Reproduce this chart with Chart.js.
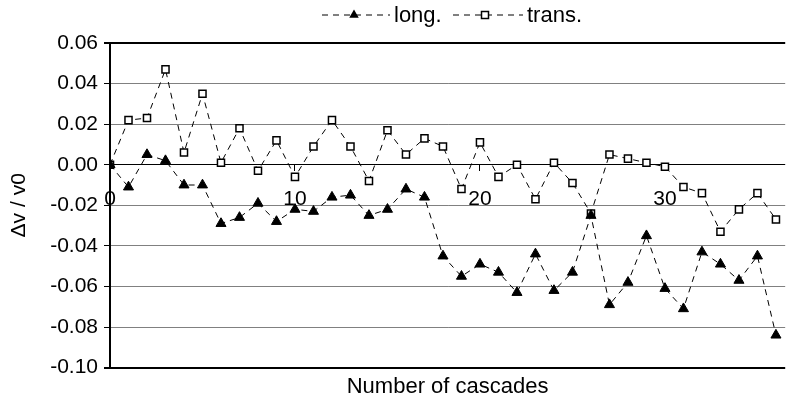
<!DOCTYPE html>
<html lang="en">
<head>
  <meta charset="UTF-8">
  <title>Velocity change per cascade</title>
  <script src="https://cdn.jsdelivr.net/npm/chart.js"></script>
  <style>
    body {
      margin: 0;
      background: #fff;
    }
    canvas {
      display: block;
    }
  </style>
</head>
<body>

  <canvas id="cascadeChart" width="792" height="404"></canvas>

  <script>
    // number of cascades (x values)
    const cascades = [0, 1, 2, 3, 4, 5, 6, 7, 8, 9, 10, 11, 12, 13, 14, 15, 16, 17, 18,
                      19, 20, 21, 22, 23, 24, 25, 26, 27, 28, 29, 30, 31, 32, 33, 34, 35, 36];

    // relative velocity change, longitudinal
    const longValues = [0.000, -0.011, 0.005, 0.002, -0.010, -0.010, -0.029, -0.026, -0.019, -0.028,
                        -0.022, -0.023, -0.016, -0.015, -0.025, -0.022, -0.012, -0.016, -0.045, -0.055,
                        -0.049, -0.053, -0.063, -0.044, -0.062, -0.053, -0.025, -0.069, -0.058, -0.035,
                        -0.061, -0.071, -0.043, -0.049, -0.057, -0.045, -0.084];

    // relative velocity change, transverse
    const transValues = [0.000, 0.022, 0.023, 0.047, 0.006, 0.035, 0.001, 0.018, -0.003, 0.012,
                         -0.006, 0.009, 0.022, 0.009, -0.008, 0.017, 0.005, 0.013, 0.009, -0.012,
                         0.011, -0.006, 0.000, -0.017, 0.001, -0.009, -0.024, 0.005, 0.003, 0.001,
                         -0.001, -0.011, -0.014, -0.033, -0.022, -0.014, -0.027];

    const seriesNames = ['long.', 'trans.'];
    const xTicks = [0, 10, 20, 30];
    const yTicks = [-0.10, -0.08, -0.06, -0.04, -0.02, 0.00, 0.02, 0.04, 0.06];

    const FONT = "'Liberation Sans', Arial, sans-serif";
    const DASH = [6, 5];

    function toPoints(values) {
      return values.map((v, i) => ({ x: cascades[i], y: v }));
    }

    function near(a, b) {
      return Math.abs(a - b) < 1e-9;
    }

    const yMin = yTicks[0];
    const yMax = yTicks[yTicks.length - 1];

    // legend drawn as "- - marker - - label" like the original plot
    const dashLegend = {
      id: 'dashLegend',
      afterDraw(chart) {
        const ctx = chart.ctx;
        const items = [
          { x0: 322, x1: 390, mx: 354, tx: 394, ds: chart.data.datasets[0] },
          { x0: 453, x1: 523, mx: 485, tx: 527, ds: chart.data.datasets[1] }
        ];
        const y = 15;
        ctx.save();
        items.forEach(it => {
          ctx.strokeStyle = '#000';
          ctx.lineWidth = 1;
          ctx.setLineDash(DASH);
          ctx.beginPath();
          ctx.moveTo(it.x0, y);
          ctx.lineTo(it.x1, y);
          ctx.stroke();
          ctx.setLineDash([]);
          if (it.ds.pointStyle === 'triangle') {
            const r = 5.5;
            ctx.fillStyle = '#000';
            ctx.beginPath();
            ctx.moveTo(it.mx, y - r);
            ctx.lineTo(it.mx + r * 0.866, y + r / 2);
            ctx.lineTo(it.mx - r * 0.866, y + r / 2);
            ctx.closePath();
            ctx.fill();
          } else {
            ctx.fillStyle = '#fff';
            ctx.lineWidth = 1.5;
            ctx.fillRect(it.mx - 3.5, y - 3.5, 7, 7);
            ctx.strokeRect(it.mx - 3.5, y - 3.5, 7, 7);
          }
          ctx.fillStyle = '#000';
          ctx.font = '22px ' + FONT;
          ctx.textBaseline = 'alphabetic';
          ctx.textAlign = 'left';
          ctx.fillText(it.ds.label, it.tx, 22);
        });
        ctx.restore();
      }
    };

    const ctx = document.getElementById('cascadeChart').getContext('2d');
    new Chart(ctx, {
      type: 'line',
      data: {
        datasets: [
          {
            label: seriesNames[0],
            data: toPoints(longValues),
            borderColor: '#000',
            borderWidth: 1,
            borderDash: DASH,
            pointStyle: 'triangle',
            pointRadius: 5.8,
            pointBackgroundColor: '#000',
            pointBorderColor: '#000',
            pointBorderWidth: 1,
            fill: false,
            tension: 0
          },
          {
            label: seriesNames[1],
            data: toPoints(transValues),
            borderColor: '#000',
            borderWidth: 1,
            borderDash: DASH,
            pointStyle: 'rect',
            pointRadius: 5,
            pointBackgroundColor: '#fff',
            pointBorderColor: '#000',
            pointBorderWidth: 1.5,
            fill: false,
            tension: 0
          }
        ]
      },
      options: {
        responsive: false,
        animation: false,
        events: [],
        layout: { padding: { top: 43, right: 0, bottom: 0, left: 0 } },
        plugins: {
          legend: { display: false },
          tooltip: { enabled: false },
          title: {
            display: true,
            text: 'Number of cascades',
            position: 'bottom',
            fullSize: false,
            color: '#000',
            font: { family: FONT, size: 22, weight: 'normal' },
            padding: { top: 6, bottom: 4 }
          }
        },
        scales: {
          x: {
            type: 'linear',
            min: 0,
            max: 36.5,
            position: { y: 0 },
            border: { display: false },
            grid: {
              drawOnChartArea: false,
              drawTicks: true,
              tickLength: 6,
              tickColor: '#000'
            },
            afterBuildTicks: s => { s.ticks = xTicks.map(v => ({ value: v })); },
            ticks: {
              color: '#000',
              padding: 16,
              maxRotation: 0,
              font: { family: FONT, size: 21 }
            }
          },
          y: {
            min: yMin,
            max: yMax,
            afterFit: s => { s.width = 110; },
            afterBuildTicks: s => { s.ticks = yTicks.map(v => ({ value: v })); },
            border: { color: '#000', width: 2 },
            grid: {
              color: c => (near(c.tick.value, yMin) || near(c.tick.value, yMax) || near(c.tick.value, 0)) ? '#000' : '#808080',
              lineWidth: c => (near(c.tick.value, yMin) || near(c.tick.value, yMax)) ? 2 : 1,
              tickColor: '#000',
              tickLength: 6
            },
            ticks: {
              color: '#000',
              padding: 6,
              font: { family: FONT, size: 21 },
              callback: v => v.toFixed(2)
            },
            title: {
              display: true,
              text: 'Δv / v0',
              color: '#000',
              font: { family: FONT, size: 21 },
              padding: { top: 7, bottom: 0 }
            }
          }
        }
      },
      plugins: [dashLegend]
    });
  </script>

</body>
</html>
